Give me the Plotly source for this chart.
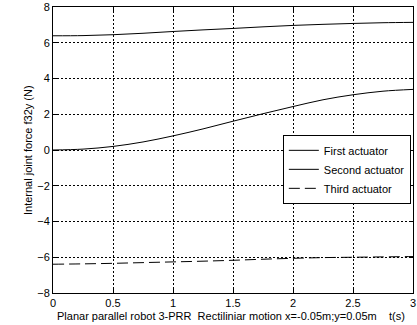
import plotly.graph_objects as go

t = [0, 0.25, 0.5, 0.75, 1.0, 1.25, 1.5, 1.75, 2.0, 2.25, 2.5, 2.75, 3.0]
first = [6.39, 6.40, 6.45, 6.53, 6.63, 6.72, 6.80, 6.89, 6.97, 7.03, 7.08, 7.12, 7.14]
second = [0.0, 0.05, 0.20, 0.45, 0.79, 1.18, 1.61, 2.03, 2.43, 2.81, 3.09, 3.29, 3.39]
third = [-6.39, -6.37, -6.34, -6.30, -6.26, -6.22, -6.17, -6.11, -6.06, -6.02, -6.00, -5.98, -5.96]
names = ["First actuator", "Second actuator", "Third actuator"]
x_ticks = [0, 0.5, 1, 1.5, 2, 2.5, 3]
y_ticks = [-8, -6, -4, -2, 0, 2, 4, 6, 8]
x_title = "Planar parallel robot 3-PRR  Rectiliniar motion x=-0.05m;y=0.05m    t(s)"
y_title = "Internal joint force f32y (N)"

FONT = "Liberation Sans, Arial, sans-serif"

fig = go.Figure()
fig.add_trace(go.Scatter(x=t, y=first, name=names[0], mode="lines", line=dict(color="black", width=1, shape="spline")))
fig.add_trace(go.Scatter(x=t, y=second, name=names[1], mode="lines", line=dict(color="black", width=1, shape="spline")))
fig.add_trace(go.Scatter(x=t, y=third, name=names[2], mode="lines", line=dict(color="black", width=1, dash="11px,5px", shape="spline")))

axis_common = dict(
    showline=True, linecolor="black", linewidth=1, mirror="ticks",
    ticks="inside", ticklen=4, tickcolor="black",
    showgrid=True, gridcolor="black", gridwidth=1, griddash="2px,2px",
    zeroline=False, tickfont=dict(family=FONT, size=11, color="black"),
    automargin=False, ticklabeloverflow="allow",
)

fig.update_layout(
    width=417, height=325,
    margin=dict(l=53, r=4, t=7, b=32, autoexpand=False),
    paper_bgcolor="white", plot_bgcolor="white",
    font=dict(family=FONT, size=11, color="black"),
    xaxis=dict(range=[0, 3], tickvals=x_ticks, ticktext=[str(v) for v in x_ticks], **axis_common),
    yaxis=dict(range=[-8, 8], tickvals=y_ticks, **axis_common),
    legend=dict(x=0.994, y=0.553, xanchor="right", yanchor="top",
                bordercolor="black", borderwidth=1, bgcolor="white",
                font=dict(family=FONT, size=11, color="black"),
                tracegroupgap=0, itemwidth=30),
    showlegend=True,
    annotations=[
        dict(text=x_title, xref="paper", yref="paper", x=0.494, y=-0.080,
             xanchor="center", yanchor="middle", showarrow=False,
             font=dict(family=FONT, size=11, color="black")),
        dict(text=y_title, xref="paper", yref="paper", x=-0.0694, y=0.5,
             xanchor="center", yanchor="middle", showarrow=False, textangle=-90,
             font=dict(family=FONT, size=11, color="black")),
    ],
)

fig.write_html("out.html", config={"displayModeBar": False},
               post_script="document.body.style.margin='0px';document.body.style.overflow='hidden';")
